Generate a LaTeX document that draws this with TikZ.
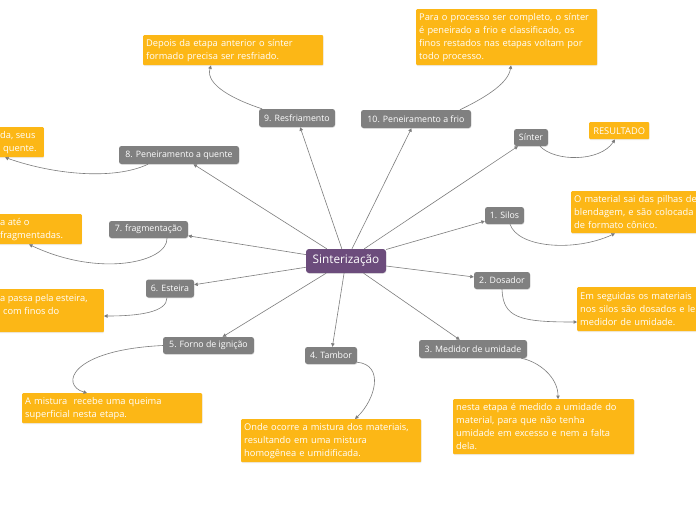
\documentclass[tikz,border=0pt]{standalone}
\usepackage{fontspec}
\setmainfont{Open Sans}
\usetikzlibrary{arrows.meta,shadows}
\definecolor{orangebox}{RGB}{252,183,22}
\definecolor{graynode}{RGB}{128,128,128}
\definecolor{purplenode}{RGB}{108,76,124}
\definecolor{linegray}{RGB}{125,125,125}
\begin{document}
\begin{tikzpicture}[x=1pt,y=-1pt,
  gnode/.style={fill=graynode, text=white, rounded corners=2.5pt,
    font=\fontsize{8.8}{10}\selectfont, inner sep=0pt, minimum height=17pt,
    drop shadow={opacity=0.2, shadow xshift=0.4pt, shadow yshift=-0.8pt}},
  cnode/.style={fill=purplenode, text=white, rounded corners=3pt,
    font=\fontsize{11.8}{13}\selectfont, inner sep=0pt, minimum height=24pt, minimum width=80pt,
    drop shadow={opacity=0.2, shadow xshift=0.4pt, shadow yshift=-0.8pt}},
  obox/.style={fill=orangebox, text=white, rounded corners=1pt,
    font=\fontsize{9.3}{13}\selectfont, align=left, inner xsep=3pt, inner ysep=0pt,
    drop shadow={opacity=0.15, shadow xshift=0.4pt, shadow yshift=-0.8pt}},
  otext/.style={text=white, font=\fontsize{9.3}{13}\selectfont, align=left, inner sep=0pt},
  conn/.style={draw=linegray, line width=0.6pt, -{Triangle[length=3.5pt,width=3.5pt]}}
]
\useasboundingbox (0,0) rectangle (696,520);
\fill[white] (0,0) rectangle (696,520);

% central node
\node[cnode] (c) at (346,261) {Sinterização};

% gray nodes
\node[gnode, minimum width=39pt] (s1) at (504.5,215.5) {1. Silos};
\node[gnode, minimum width=56pt] (d2) at (502,280.5) {2. Dosador};
\node[gnode, minimum width=108pt, minimum height=18pt] (m3) at (473,349) {3. Medidor de umidade};
\node[gnode, minimum width=52pt] (t4) at (331,355.5) {4. Tambor};
\node[gnode, minimum width=91pt] (f5) at (208.5,345.5) {5. Forno de ignição};
\node[gnode, minimum width=48pt, minimum height=18pt] (e6) at (170,288.5) {6. Esteira};
\node[gnode, minimum width=79pt] (fr7) at (148.5,229.5) {7. fragmentação};
\node[gnode, minimum width=120pt, minimum height=18pt] (p8) at (179,155) {8. Peneiramento a quente};
\node[gnode, minimum width=76pt, minimum height=18pt] (r9) at (297,118) {9. Resfriamento};
\node[gnode, minimum width=110pt, minimum height=18pt] (pf) at (416,119) {10. Peneiramento a frio};
\node[gnode, minimum width=34pt] (sin) at (531,137.5) {Sínter};

% orange boxes
\node[obox, anchor=north west, text width=160pt, minimum height=42pt] (o1) at (571,191)
  {O material sai das pilhas de\\blendagem, e são colocada\\de formato cônico.};
\node[obox, anchor=north west, text width=160pt, minimum height=44pt] (o2) at (577,287)
  {Em seguidas os materiais\\nos silos são dosados e le\\medidor de umidade.};
\node[obox, anchor=north west, text width=175pt, minimum height=55pt] (o3) at (453,399)
  {nesta etapa é medido a umidade do\\material, para que não tenha\\umidade em excesso e nem a falta\\dela.};
\node[obox, anchor=north west, text width=174pt, minimum height=43pt] (o4) at (241,419)
  {Onde ocorre a mistura dos materiais,\\resultando em uma mistura\\homogênea e umidificada.};
\node[obox, anchor=north west, text width=174pt, minimum height=30pt] (o5) at (22,393)
  {A mistura~ recebe uma queima\\superficial nesta etapa.};
\node[obox, anchor=north east, minimum width=150pt, minimum height=43pt] (o6) at (104,289) {};
\node[otext, anchor=north west, minimum height=43pt] (t6) at (0,289)
  {a passa pela esteira,\\\hspace*{3pt}com finos do\\\mbox{}};
\node[obox, anchor=north east, minimum width=150pt, minimum height=30pt] (o7) at (82,214) {};
\node[otext, anchor=north west, minimum height=30pt] (t7) at (0,214)
  {a até o\\fragmentadas.};
\node[obox, anchor=north east, minimum width=150pt, minimum height=30pt] (o8) at (44,127) {};
\node[otext, anchor=north west, minimum height=30pt] (t8) at (0,127)
  {da, seus\\\hspace*{3pt}quente.};
\node[obox, anchor=north west, text width=174pt, minimum height=30pt] (o9) at (143,35)
  {Depois da etapa anterior o sínter\\formado precisa ser resfriado.};
\node[obox, anchor=north west, text width=175pt, minimum height=56pt] (o10) at (416,9)
  {Para o processo ser completo, o sínter\\é peneirado a frio e classificado, os\\finos restados nas etapas voltam por\\todo processo.};
\node[obox, anchor=north west, align=center, inner xsep=0pt, minimum width=60pt, minimum height=17pt] (res) at (589,122)
  {RESULTADO};

% main connectors
\foreach \t in {s1,d2,m3,t4,f5,e6,fr7,p8,r9,pf,sin}
  \draw[conn] (c) -- (\t);

% curved connectors
\draw[conn] ([xshift=5.5pt]s1.south) .. controls (518,248) and (575,252) .. ([xshift=44pt]o1.south west);
\draw[conn] (d2.south) .. controls (503,318) and (520,322) .. ([yshift=-35pt]o2.north west);
\draw[conn] ([xshift=-6pt]m3.south east) .. controls (540,362) and (558,378) .. ([xshift=105pt]o3.north west);
\draw[conn] ([yshift=2pt]t4.south east) .. controls (385,365) and (375,400) .. ([xshift=114pt]o4.north west);
\draw[conn] (f5.west) .. controls (70,350) and (60,385) .. ([xshift=65pt]o5.north west);
\draw[conn] ([xshift=-3pt]e6.south) .. controls (167,312) and (140,316) .. ([yshift=-27pt]o6.north east);
\draw[conn] ([xshift=18.5pt]fr7.south) .. controls (168,262) and (100,278) .. ([xshift=-53pt]o7.south east);
\draw[conn] ([xshift=-31pt]p8.south) .. controls (115,180) and (55,175) .. ([xshift=-39pt]o8.south east);
\draw[conn] ([xshift=-35pt]r9.north) .. controls (235,100) and (205,85) .. ([xshift=68pt]o9.south west);
\draw[conn] ([xshift=44pt]pf.north) .. controls (480,100) and (508,85) .. ([xshift=95pt]o10.south west);
\draw[conn] ([xshift=9pt]sin.south) .. controls (555,162) and (600,162) .. ([xshift=26pt]res.south west);
\end{tikzpicture}
\end{document}
